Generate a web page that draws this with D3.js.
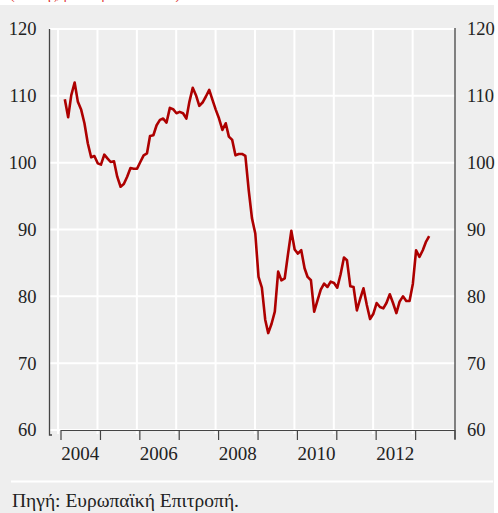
<!DOCTYPE html>
<html>
<head>
<meta charset="utf-8">
<script src="https://cdn.jsdelivr.net/npm/d3@7"></script>
<style>
  html, body { margin: 0; padding: 0; background: #fff; }
  svg { display: block; font-family: "Liberation Serif", "Times New Roman", serif; }
</style>
</head>
<body>
<div id="chart"></div>
<script>
// monthly index, Jan 2004 .. Apr 2013
const firstMonth = new Date(2004, 0, 1);
const values = [
  109.5, 106.8, 110.1, 112.0, 109.1, 107.9, 105.9, 102.9, 100.8, 101.0, 99.9, 99.7,
  101.2, 100.6, 100.1, 100.2, 97.9, 96.4, 96.8, 97.9, 99.2, 99.1, 99.1, 100.1,
  101.1, 101.4, 104.0, 104.1, 105.6, 106.4, 106.6, 106.0, 108.2, 108.0, 107.4, 107.6,
  107.4, 106.6, 109.1, 111.2, 110.1, 108.5, 109.0, 109.9, 110.9, 109.4, 107.9, 106.6,
  104.9, 105.9, 103.9, 103.4, 101.1, 101.3, 101.3, 101.0, 95.9, 91.7, 89.4, 82.9,
  81.3, 76.5, 74.5, 75.9, 77.7, 83.7, 82.4, 82.7, 86.4, 89.8, 87.0, 86.4,
  86.9, 84.2, 82.9, 82.4, 77.7, 79.4, 81.0, 81.9, 81.4, 82.2, 82.0, 81.3,
  83.3, 85.8, 85.4, 81.5, 81.4, 77.9, 79.6, 81.2, 78.7, 76.6, 77.4, 79.0,
  78.4, 78.2, 79.0, 80.3, 79.0, 77.5, 79.2, 80.0, 79.3, 79.3, 81.9, 86.9,
  85.9, 86.9, 88.1, 89.0
];
const yTicks = [60, 70, 80, 90, 100, 110, 120];
const tickYears = [2004, 2005, 2006, 2007, 2008, 2009, 2010, 2011, 2012, 2013, 2014];
const labelYears = [2004, 2006, 2008, 2010, 2012];
const source = "Πηγή: Ευρωπαϊκή Επιτροπή.";
const heading = "(δείκτης, μ.ο. περιόδου = 100)";

const W = 498, H = 513;
const red = "#ad0000", axisCol = "#444", bg = "#eeeeee";

const svg = d3.select("#chart").append("svg")
  .attr("width", W).attr("height", H);

svg.append("rect").attr("width", W).attr("height", H).attr("fill", "#fff");

// heading cut off at the top edge
svg.append("text")
  .attr("x", 10).attr("y", -1)
  .attr("font-size", 14).attr("fill", "#e03030")
  .text(heading);

svg.append("rect")
  .attr("x", 0).attr("y", 5).attr("width", 494).attr("height", H - 5)
  .attr("fill", bg);

const x = d3.scaleTime()
  .domain([new Date(2004, 0, 1), new Date(2014, 0, 1)])
  .range([60.5, 454.5]);
const y = d3.scaleLinear().domain([60, 120]).range([430, 29]);

const leftX = 49.5, rightX = 455;

const data = values.map((v, i) => ({ date: d3.timeMonth.offset(firstMonth, i), v }));

// grid
const grid = svg.append("g").attr("stroke", "#fff").attr("stroke-width", 2);
grid.selectAll("line.h").data(yTicks).join("line")
  .attr("x1", leftX).attr("x2", rightX)
  .attr("y1", d => y(d)).attr("y2", d => y(d));
grid.selectAll("line.v").data(tickYears.slice(0, -1)).join("line")
  .attr("x1", d => x(new Date(d, 0, 1)) - 2.5)
  .attr("x2", d => x(new Date(d, 0, 1)) - 2.5)
  .attr("y1", y(120)).attr("y2", 434);

// bottom axis
const xAxis = d3.axisBottom(x)
  .tickValues(tickYears.map(yy => new Date(yy, 0, 1)))
  .tickSize(10).tickSizeOuter(0).tickFormat("");
const gx = svg.append("g").attr("transform", `translate(0,${y(60)})`).call(xAxis);
gx.select(".domain").attr("stroke", axisCol).attr("stroke-width", 1.2);
gx.selectAll(".tick line").attr("stroke", axisCol).attr("stroke-width", 1.2);

svg.append("g").selectAll("text").data(labelYears).join("text")
  .attr("x", d => x(new Date(d, 6, 1)))
  .attr("y", 453).attr("dy", "0.35em")
  .attr("text-anchor", "middle")
  .attr("font-size", 19).attr("fill", "#222")
  .text(d => d);

// y axes
const yLeft = d3.axisLeft(y).tickValues(yTicks).tickSize(0).tickPadding(13);
const yRight = d3.axisRight(y).tickValues(yTicks).tickSize(0).tickPadding(12);
[[yLeft, leftX], [yRight, rightX]].forEach(([ax, px]) => {
  const g = svg.append("g").attr("transform", `translate(${px},0)`).call(ax);
  g.select(".domain").remove();
  g.selectAll("text")
    .attr("font-family", "Liberation Serif, Times New Roman, serif")
    .attr("font-size", 18.5).attr("fill", "#222");
});

svg.append("path")
  .attr("d", `M${leftX},${y(120)}V435H52`)
  .attr("fill", "none").attr("stroke", axisCol).attr("stroke-width", 1.3);
svg.append("path")
  .attr("d", `M${rightX},${y(120) - 1}V439`)
  .attr("fill", "none").attr("stroke", axisCol).attr("stroke-width", 1.3);

// series
const line = d3.line()
  .x(d => x(d3.timeDay.offset(d.date, 40)))
  .y(d => y(d.v));
svg.append("path").datum(data)
  .attr("d", line)
  .attr("fill", "none").attr("stroke", red)
  .attr("stroke-width", 2.6).attr("stroke-linejoin", "round");

// source
svg.append("line")
  .attr("x1", 11).attr("x2", 493).attr("y1", 481.5).attr("y2", 481.5)
  .attr("stroke", "#fff").attr("stroke-width", 2);
svg.append("text")
  .attr("x", 12).attr("y", 500).attr("dy", "0.35em")
  .attr("font-size", 19.5).attr("fill", "#222")
  .text(source);
</script>
</body>
</html>
